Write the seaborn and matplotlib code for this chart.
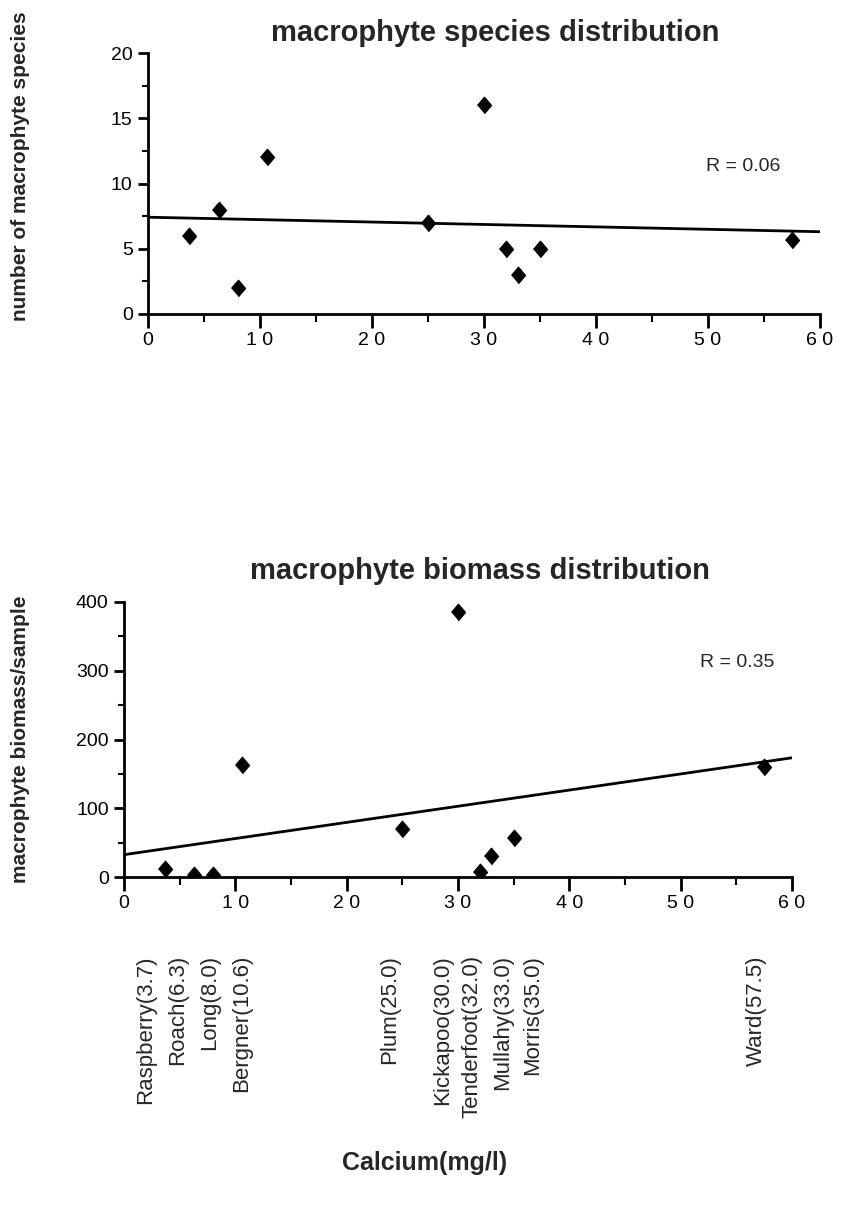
import numpy as np
import pandas as pd
import seaborn as sns
import matplotlib.pyplot as plt
from matplotlib.ticker import MultipleLocator, FuncFormatter
import matplotlib.transforms as mtransforms

# --- Data ---
lakes = ['Raspberry', 'Roach', 'Long', 'Bergner', 'Plum',
         'Kickapoo', 'Tenderfoot', 'Mullahy', 'Morris', 'Ward']
calcium = [3.7, 6.3, 8.0, 10.6, 25.0, 30.0, 32.0, 33.0, 35.0, 57.5]
species = [6, 8, 2, 12, 7, 16, 5, 3, 5, 5.7]
biomass = [12, 3, 3, 163, 70, 385, 8, 30, 57, 160]
r_species = 0.06
r_biomass = 0.35

# x position (in calcium units) where each lake name is written under the axis
label_pos = [1.9, 4.8, 7.7, 10.6, 23.9, 28.6, 31.3, 34.0, 36.7, 56.8]

df = pd.DataFrame({'lake': lakes, 'calcium': calcium,
                   'species': species, 'biomass': biomass})

sns.set_theme(style='ticks')
plt.rcParams['font.family'] = ['Liberation Sans', 'DejaVu Sans']
plt.rcParams['axes.linewidth'] = 2.0
plt.rcParams['xtick.major.width'] = 2.0
plt.rcParams['ytick.major.width'] = 2.0
plt.rcParams['xtick.minor.width'] = 1.5
plt.rcParams['ytick.minor.width'] = 1.5
plt.rcParams['xtick.color'] = 'black'
plt.rcParams['ytick.color'] = 'black'

narrow = ['Liberation Sans Narrow', 'Liberation Sans', 'DejaVu Sans']

# slightly taller than wide diamond, like the printed markers
diamond = [(-0.85, 0), (0, 1), (0.85, 0), (0, -1)]


def spaced(v, pos):
    s = '%d' % v
    return ' '.join(s)


def style_axes(ax, ymax, ymajor, yminor):
    ax.set_xlim(0, 60)
    ax.set_ylim(0, ymax)
    ax.xaxis.set_major_locator(MultipleLocator(10))
    ax.xaxis.set_minor_locator(MultipleLocator(5))
    ax.yaxis.set_major_locator(MultipleLocator(ymajor))
    ax.yaxis.set_minor_locator(MultipleLocator(yminor))
    ax.xaxis.set_major_formatter(FuncFormatter(spaced))
    ax.tick_params(axis='x', which='major', length=10, labelsize=14, pad=3)
    ax.tick_params(axis='x', which='minor', length=6)
    ax.tick_params(axis='y', which='major', length=7, labelsize=14, pad=4)
    ax.tick_params(axis='y', which='minor', length=4)
    for s in ['left', 'bottom']:
        ax.spines[s].set_color('black')
    sns.despine(ax=ax)
    ax.set_xlabel('')
    ax.set_ylabel('')


fig = plt.figure(figsize=(8.44, 12.13), dpi=100)

# --- top panel: number of species ---
ax1 = fig.add_axes([148 / 844, 1 - 314 / 1213, 672 / 844, 261 / 1213])
ax1.set_xlim(0, 60)
sns.regplot(data=df, x='calcium', y='species', ax=ax1, scatter=False,
            ci=None, truncate=False, color='black', line_kws={'lw': 2})
sns.scatterplot(data=df, x='calcium', y='species', ax=ax1, marker=diamond,
                s=140, color='black', edgecolor='black', zorder=3)
style_axes(ax1, 20, 5, 2.5)
ax1.set_ylabel('number of macrophyte species', fontsize=15,
               fontweight='bold')
ax1.yaxis.set_label_coords(-0.175, 0.565)
ax1.text(0.516, 1 + 20 / 261, 'macrophyte species distribution',
         transform=ax1.transAxes, ha='center', va='center', fontsize=21,
         fontweight='bold', family=narrow)
ax1.text(49.8, 11.3, 'R = %.2f' % r_species, fontsize=14, va='center')

# --- bottom panel: biomass ---
ax2 = fig.add_axes([124 / 844, 1 - 877 / 1213, 668 / 844, 275 / 1213])
ax2.set_xlim(0, 60)
sns.regplot(data=df, x='calcium', y='biomass', ax=ax2, scatter=False,
            ci=None, truncate=False, color='black', line_kws={'lw': 2})
sns.scatterplot(data=df, x='calcium', y='biomass', ax=ax2, marker=diamond,
                s=140, color='black', edgecolor='black', zorder=3)
style_axes(ax2, 400, 100, 50)
ax2.set_ylabel('macrophyte biomass/sample', fontsize=15, fontweight='bold')
ax2.yaxis.set_label_coords(-0.14, 0.5)
ax2.text(0.533, 1 + 31 / 275, 'macrophyte biomass distribution',
         transform=ax2.transAxes, ha='center', va='center', fontsize=21,
         fontweight='bold', family=narrow)
ax2.text(51.7, 312, 'R = %.2f' % r_biomass, fontsize=14, va='center')

# lake names under the bottom axis
trans = mtransforms.blended_transform_factory(ax2.transData, fig.transFigure)
for name, ca, xp in zip(lakes, calcium, label_pos):
    ax2.text(xp, 1 - 955 / 1213, '%s(%.1f)' % (name, ca), transform=trans,
             rotation=90, ha='center', va='top', fontsize=16)

fig.text(425 / 844, 1 - 1163 / 1213, 'Calcium(mg/l)', ha='center', va='center',
         fontsize=18, fontweight='bold', family=narrow)

fig.savefig('out.png', dpi=100)
